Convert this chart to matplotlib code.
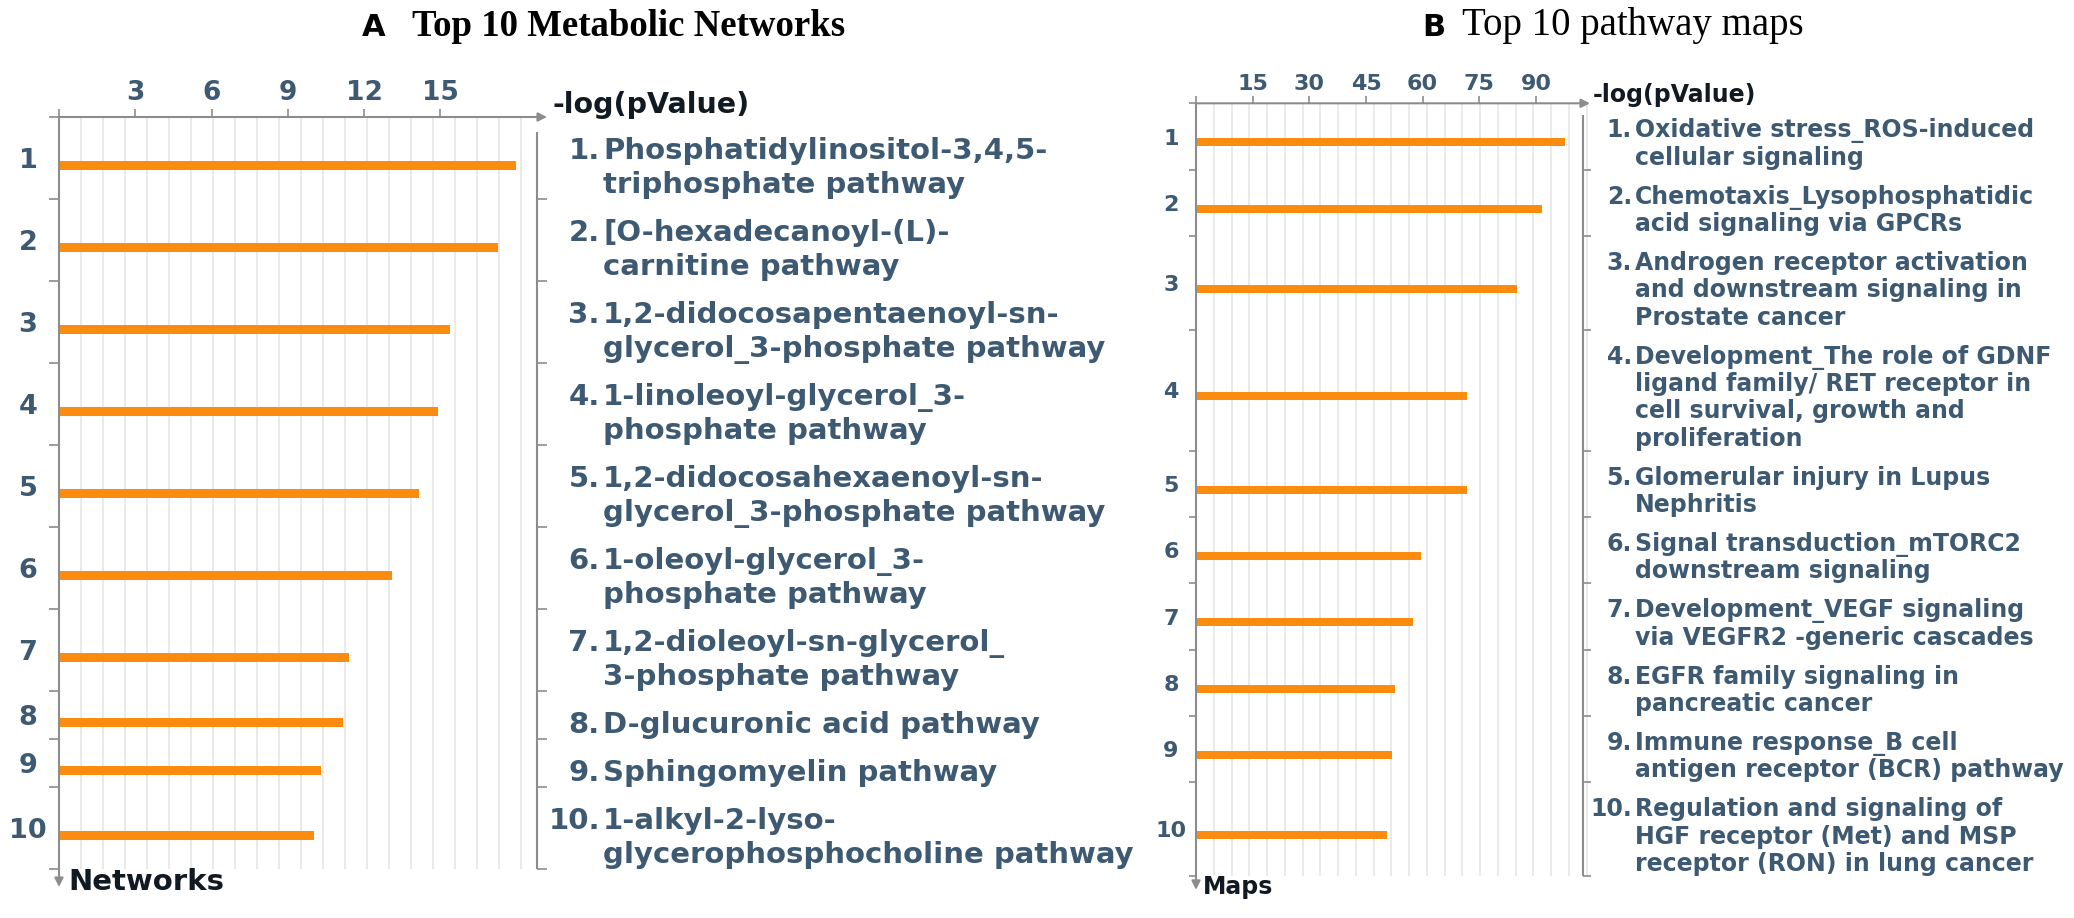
import matplotlib
matplotlib.use('Agg')
import matplotlib.pyplot as plt

# ---- panel A : metabolic networks ----
net_values = [17.96, 17.28, 15.37, 14.92, 14.17, 13.08, 11.40, 11.18, 10.30, 10.03]
net_labels = [
    'Phosphatidylinositol-3,4,5-\ntriphosphate pathway',
    '[O-hexadecanoyl-(L)-\ncarnitine pathway',
    '1,2-didocosapentaenoyl-sn-\nglycerol_3-phosphate pathway',
    '1-linoleoyl-glycerol_3-\nphosphate pathway',
    '1,2-didocosahexaenoyl-sn-\nglycerol_3-phosphate pathway',
    '1-oleoyl-glycerol_3-\nphosphate pathway',
    '1,2-dioleoyl-sn-glycerol_\n3-phosphate pathway',
    'D-glucuronic acid pathway',
    'Sphingomyelin pathway',
    '1-alkyl-2-lyso-\nglycerophosphocholine pathway',
]
net_ticks = [0, 3, 6, 9, 12, 15]

# ---- panel B : pathway maps ----
map_values = [97.7, 91.5, 84.9, 71.8, 71.8, 59.5, 57.4, 52.6, 52.0, 50.6]
map_labels = [
    'Oxidative stress_ROS-induced\ncellular signaling',
    'Chemotaxis_Lysophosphatidic\nacid signaling via GPCRs',
    'Androgen receptor activation\nand downstream signaling in\nProstate cancer',
    'Development_The role of GDNF\nligand family/ RET receptor in\ncell survival, growth and\nproliferation',
    'Glomerular injury in Lupus\nNephritis',
    'Signal transduction_mTORC2\ndownstream signaling',
    'Development_VEGF signaling\nvia VEGFR2 -generic cascades',
    'EGFR family signaling in\npancreatic cancer',
    'Immune response_B cell\nantigen receptor (BCR) pathway',
    'Regulation and signaling of\nHGF receptor (Met) and MSP\nreceptor (RON) in lung cancer',
]
map_ticks = [0, 15, 30, 45, 60, 75, 90]

TXT = '#3d5a72'
DARK = '#111a22'
AX = '#8c8c8c'
GRID = '#e6e6e6'
ORANGE = '#fb8c0f'

W, H = 2074, 918
plt.rcParams['font.family'] = ['DejaVu Sans']
fig = plt.figure(figsize=(W / 100, H / 100), dpi=100)

layA = dict(top=117, origin=59, unit=25.43, x_end=547, pad=14, line=34, arrow=18,
            bar_off=7, bar_h=9, grid=0.866, num_dx=31, num_fs=19.5, tick_fs=19,
            xtick_len=8, ytick_len=10, tick_pad=2,
            br_x=537, br_top=15, br_tick=10, num_r=600, txt_x=603, lab_fs=21,
            axlab='Networks', axlab_x=68, axlab_fs=21, axlab_y=882,
            vlab_x=552, vlab_y=105, vlab_fs=20.5)
layB = dict(top=103.3, origin=1196, unit=3.778, x_end=1590, pad=11.5, line=27.4, arrow=14,
            bar_off=6, bar_h=8, grid=4.70, num_dx=25, num_fs=16, tick_fs=16,
            xtick_len=7, ytick_len=7, tick_pad=1.5,
            br_x=1582.7, br_top=12, br_tick=8, num_r=1632, txt_x=1635, lab_fs=17,
            axlab='Maps', axlab_x=1203, axlab_fs=17, axlab_y=887,
            vlab_x=1593, vlab_y=95, vlab_fs=17)


def draw_panel(values, labels, ticks, lay):
    x0, unit, top = lay['origin'], lay['unit'], lay['top']
    nlines = [len(l.split('\n')) for l in labels]
    bounds = [0]
    for n in nlines:
        bounds.append(bounds[-1] + lay['pad'] + lay['line'] * n)
    total = bounds[-1]
    y_end = total + lay['arrow']
    x_end = (lay['x_end'] - x0) / unit

    ax = fig.add_axes([x0 / W, 1 - (top + y_end) / H, (lay['x_end'] - x0) / W, y_end / H])
    ax.set_xlim(0, x_end)
    ax.set_ylim(y_end, 0)
    for s in ax.spines.values():
        s.set_visible(False)

    centers = [(bounds[i] + bounds[i + 1]) / 2 for i in range(len(values))]
    bar_y = [c + lay['bar_off'] for c in centers]

    # grid
    k = 1
    while k * lay['grid'] < x_end - 0.5:
        ax.vlines(k * lay['grid'], 0, total, color=GRID, lw=1.2, zorder=1)
        k += 1

    ax.barh(bar_y, values, height=lay['bar_h'], color=ORANGE, zorder=3)

    # axis lines with arrows
    ax.annotate('', xy=(x_end, 0), xytext=(0, 0), annotation_clip=False,
                arrowprops=dict(arrowstyle='-|>', color=AX, lw=1.5, shrinkA=0, shrinkB=0,
                                mutation_scale=13))
    ax.annotate('', xy=(0, y_end), xytext=(0, 0), annotation_clip=False,
                arrowprops=dict(arrowstyle='-|>', color=AX, lw=1.5, shrinkA=0, shrinkB=0,
                                mutation_scale=13))

    ax.xaxis.tick_top()
    ax.set_xticks(ticks)
    ax.set_xticklabels(['' if t == 0 else str(t) for t in ticks], fontweight='bold')
    ax.tick_params(axis='x', length=lay['xtick_len'] * 0.72, width=1.2, color=AX,
                   pad=lay['tick_pad'], labelsize=lay['tick_fs'], labelcolor=TXT)
    ax.set_yticks(bounds)
    ax.set_yticklabels([])
    ax.tick_params(axis='y', length=lay['ytick_len'] * 0.72, width=1.2, color=AX)

    # row numbers
    cap_num = 0.729 * lay['num_fs'] / 0.72
    for i, c in enumerate(centers):
        ax.text(-lay['num_dx'] / unit, c + cap_num / 2, str(i + 1), ha='center', va='baseline',
                fontsize=lay['num_fs'], fontweight='bold', color=TXT)

    # right bracket
    xb = (lay['br_x'] - x0) / unit
    ax.vlines(xb, lay['br_top'], total, color=AX, lw=1.5, clip_on=False)
    ax.hlines(bounds[1:], xb, xb + lay['br_tick'] / unit, color=AX, lw=1.2, clip_on=False)

    # labels on the right
    cap = 0.729 * lay['lab_fs'] / 0.72
    xn = (lay['num_r'] - x0) / unit
    xt = (lay['txt_x'] - x0) / unit
    for i, lab in enumerate(labels):
        lines = lab.split('\n')
        n = len(lines)
        for j, line in enumerate(lines):
            yb = bar_y[i] + (j - (n - 1) / 2) * lay['line'] + cap / 2
            if j == 0:
                ax.text(xn, yb, f'{i + 1}.', ha='right', va='baseline', fontsize=lay['lab_fs'],
                        fontweight='bold', color=TXT)
            ax.text(xt, yb, line, ha='left', va='baseline', fontsize=lay['lab_fs'],
                    fontweight='bold', color=TXT)

    ax.text((lay['vlab_x'] - x0) / unit, lay['vlab_y'] - top, '-log(pValue)', ha='left',
            va='center', fontsize=lay['vlab_fs'], fontweight='bold', color=DARK)
    ax.text((lay['axlab_x'] - x0) / unit, lay['axlab_y'] - top, lay['axlab'], ha='left',
            va='center', fontsize=lay['axlab_fs'], fontweight='bold', color=DARK)
    return ax


draw_panel(net_values, net_labels, net_ticks, layA)
draw_panel(map_values, map_labels, map_ticks, layB)

fig.text(362 / W, 1 - 27 / H, 'A', ha='left', va='center', fontsize=22, fontweight='bold',
         color='black')
fig.text(412 / W, 1 - 26 / H, 'Top 10 Metabolic Networks', ha='left', va='center',
         fontsize=26.5, fontweight='bold', family='Liberation Serif', color='black')
fig.text(1422 / W, 1 - 27 / H, 'B', ha='left', va='center', fontsize=22, fontweight='bold',
         color='black')
fig.text(1462 / W, 1 - 26 / H, 'Top 10 pathway maps', ha='left', va='center',
         fontsize=28, family='Liberation Serif', color='black')

fig.savefig('out.png', dpi=100, facecolor='white')
